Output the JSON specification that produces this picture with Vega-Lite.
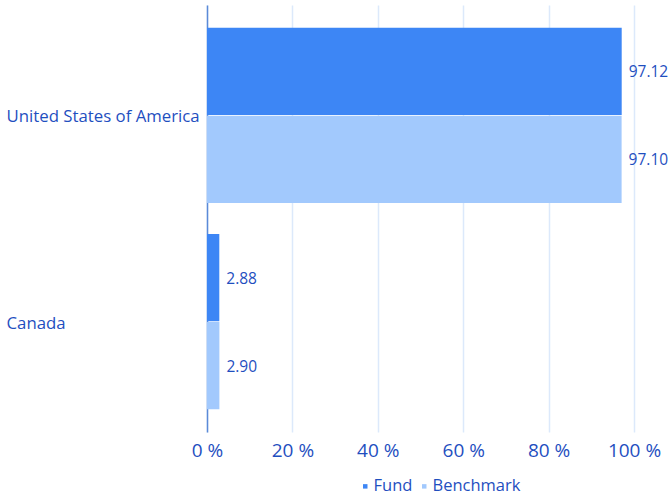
{
  "$schema": "https://vega.github.io/schema/vega-lite/v6.json",
  "width": 427,
  "height": 427,
  "autosize": "none",
  "padding": {"left": 207, "top": 5, "right": 36, "bottom": 65},
  "background": "white",
  "data": {
    "values": [
      {"country": "United States of America", "series": "Fund", "value": 97.12, "label": "97.12"},
      {"country": "United States of America", "series": "Benchmark", "value": 97.10, "label": "97.10"},
      {"country": "Canada", "series": "Fund", "value": 2.88, "label": "2.88"},
      {"country": "Canada", "series": "Benchmark", "value": 2.90, "label": "2.90"}
    ]
  },
  "config": {
    "font": "Open Sans",
    "view": {"stroke": null}
  },
  "encoding": {
    "y": {
      "field": "country",
      "type": "nominal",
      "sort": ["United States of America", "Canada"],
      "scale": {"paddingInner": 0.15, "paddingOuter": 0.11},
      "axis": {
        "title": null,
        "labelAlign": "left",
        "labelPadding": 201,
        "labelLimit": 400,
        "labelOffset": 2,
        "ticks": false,
        "labelFontSize": 16.8,
        "labelColor": "#1f4fbf",
        "domainColor": "#5b8ad8",
        "domainWidth": 1.5,
        "grid": false
      }
    },
    "yOffset": {
      "field": "series",
      "type": "nominal",
      "sort": ["Fund", "Benchmark"],
      "scale": {"paddingInner": 0.01}
    },
    "x": {
      "field": "value",
      "type": "quantitative",
      "scale": {"domain": [0, 100], "nice": false},
      "axis": {
        "title": null,
        "values": [0, 20, 40, 60, 80, 100],
        "labelExpr": "datum.value + ' %'",
        "labelFlush": false,
        "domain": false,
        "ticks": false,
        "labelPadding": 9,
        "labelFontSize": 19,
        "labelColor": "#1f4fbf",
        "gridColor": "#dce9fb",
        "gridWidth": 1.5
      }
    }
  },
  "layer": [
    {
      "mark": {"type": "bar"},
      "encoding": {
        "color": {
          "field": "series",
          "type": "nominal",
          "sort": ["Fund", "Benchmark"],
          "scale": {"domain": ["Fund", "Benchmark"], "range": ["#3d86f5", "#a2c9fd"]},
          "legend": {
            "title": null,
            "orient": "none",
            "direction": "horizontal",
            "legendX": 150,
            "legendY": 473,
            "symbolType": "square",
            "symbolSize": 20,
            "labelFontSize": 16.5,
            "labelColor": "#1f4fbf",
            "labelOffset": 0,
            "columnPadding": 3
          }
        }
      }
    },
    {
      "mark": {"type": "text", "align": "left", "dx": 7, "dy": 1, "fontSize": 15.5, "color": "#1f4fbf"},
      "encoding": {
        "text": {"field": "label"}
      }
    }
  ]
}
